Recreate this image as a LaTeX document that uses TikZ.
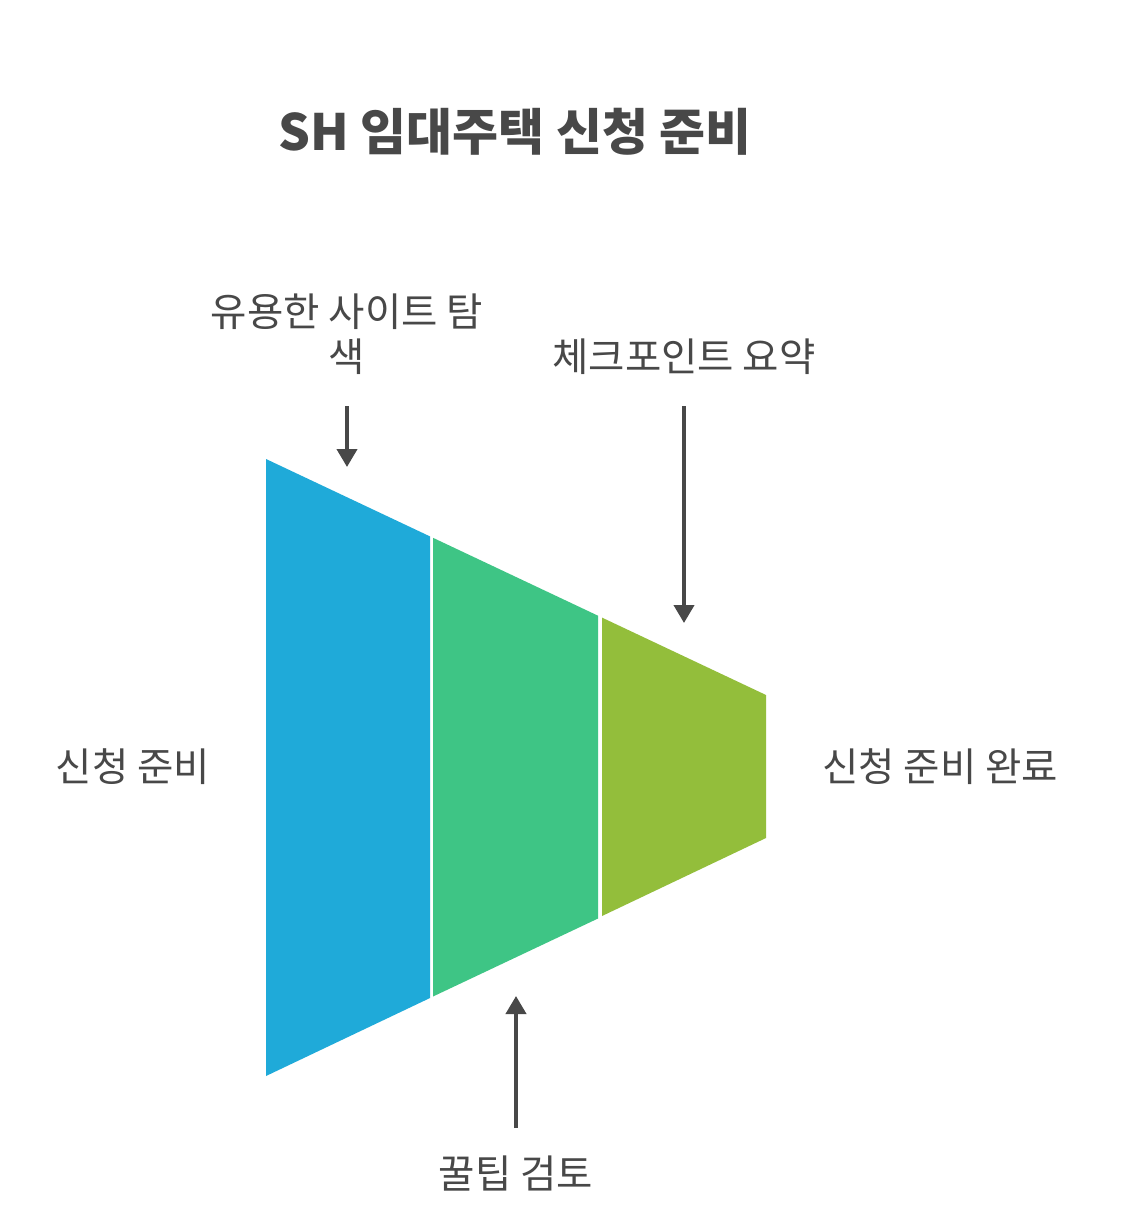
\documentclass[tikz,border=0pt]{standalone}
\usepackage{fontspec}
\setmainfont{Noto Sans CJK KR}
\usetikzlibrary{arrows.meta}
\definecolor{txt}{HTML}{484848}
\definecolor{cblue}{HTML}{1FAAD9}
\definecolor{cgreen}{HTML}{3EC585}
\definecolor{clime}{HTML}{93BE3B}
\tikzset{
  lbl/.style={text=txt, font=\fontsize{39.5}{45}\selectfont, inner sep=0pt, align=center},
  ttl/.style={text=txt, font=\bfseries\fontsize{50}{58}\selectfont, inner sep=0pt},
  arr/.style={draw=txt, line width=4pt, -{Triangle[width=20pt,length=18pt]}}
}
\begin{document}
\begin{tikzpicture}[x=1pt,y=-1pt]
\useasboundingbox (0,0) rectangle (1128,1220);
\fill[white] (0,0) rectangle (1128,1220);
% funnel segments
\fill[cblue] (266,459) -- (430,536.4) -- (430,998) -- (266,1076) -- cycle;
\fill[cgreen] (433,537.8) -- (598,615.7) -- (598,918.5) -- (433,996.5) -- cycle;
\fill[clime] (602,617.6) -- (766,695) -- (766,838) -- (602,916) -- cycle;
% texts
\node[ttl] (title) at (515,132) {SH 임대주택 신청 준비};
\node[lbl] (site) at (347,334) {유용한 사이트 탐\\색};
\node[lbl] (check) at (684,357) {체크포인트 요약};
\node[lbl] (start) at (133,767) {신청 준비};
\node[lbl] (done) at (940,767) {신청 준비 완료};
\node[lbl] (tip) at (516,1173) {꿀팁 검토};
% arrows
\coordinate (a1s) at (347,406); \coordinate (a1e) at (347,467);
\coordinate (a2s) at (684,406); \coordinate (a2e) at (684,623);
\coordinate (a3s) at (516,1128); \coordinate (a3e) at (516,996);
\draw[arr] (a1s) -- (a1e);
\draw[arr] (a2s) -- (a2e);
\draw[arr] (a3s) -- (a3e);
\end{tikzpicture}
\end{document}
